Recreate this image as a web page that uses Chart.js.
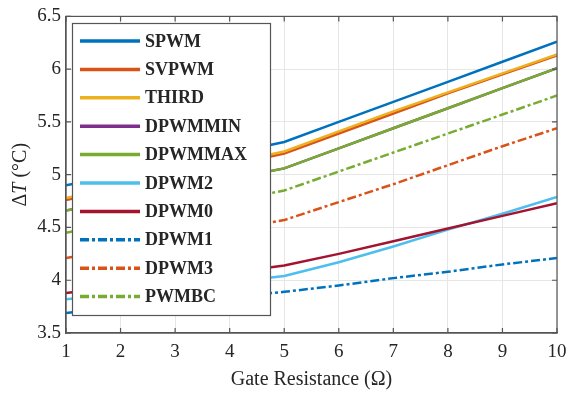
<!DOCTYPE html>
<html lang="en">
<head>
    <meta charset="UTF-8">
    <title>Delta T vs Gate Resistance</title>
    <script src="https://cdn.jsdelivr.net/npm/chart.js"></script>
    <style>
        body {
            margin: 0;
            background-color: #ffffff;
        }
        #wrap {
            width: 567px;
            height: 393px;
            position: relative;
        }
    </style>
</head>
<body>
    <div id="wrap"><canvas id="dtChart"></canvas></div>

    <script>
        // gate resistance (ohm)
        const resistance = [1, 2, 3, 4, 5, 6, 7, 8, 9, 10];

        // delta T (degC) per modulation scheme
        const spwm    = [4.90, 5.00, 5.10, 5.20, 5.31, 5.50, 5.69, 5.88, 6.07, 6.26];
        const svpwm   = [4.76, 4.87, 4.98, 5.09, 5.20, 5.39, 5.58, 5.77, 5.95, 6.13];
        const third   = [4.78, 4.89, 5.00, 5.11, 5.22, 5.41, 5.60, 5.78, 5.96, 6.14];
        const dpwmmin = [4.66, 4.76, 4.86, 4.96, 5.06, 5.25, 5.44, 5.63, 5.82, 6.01];
        const dpwmmax = [4.66, 4.76, 4.86, 4.96, 5.06, 5.25, 5.44, 5.63, 5.82, 6.01];
        const dpwm2   = [3.82, 3.87, 3.93, 3.98, 4.04, 4.17, 4.32, 4.48, 4.63, 4.79];
        const dpwm0   = [3.88, 3.94, 4.01, 4.07, 4.14, 4.25, 4.37, 4.49, 4.61, 4.73];
        const dpwm1   = [3.69, 3.74, 3.79, 3.84, 3.89, 3.95, 4.02, 4.08, 4.15, 4.21];
        const dpwm3   = [4.21, 4.30, 4.39, 4.48, 4.57, 4.74, 4.91, 5.09, 5.27, 5.44];
        const pwmbc   = [4.45, 4.55, 4.65, 4.75, 4.85, 5.03, 5.21, 5.39, 5.57, 5.75];

        const seriesNames = ['SPWM', 'SVPWM', 'THIRD', 'DPWMMIN', 'DPWMMAX', 'DPWM2', 'DPWM0', 'DPWM1', 'DPWM3', 'PWMBC'];
        const seriesValues = [spwm, svpwm, third, dpwmmin, dpwmmax, dpwm2, dpwm0, dpwm1, dpwm3, pwmbc];

        const xTicks = ['1', '2', '3', '4', '5', '6', '7', '8', '9', '10'];
        const yTicks = ['3.5', '4', '4.5', '5', '5.5', '6', '6.5'];

        const colors = ['#0072BD', '#D95319', '#EDB120', '#7E2F8E', '#77AC30', '#4DBEEE', '#A2142F', '#0072BD', '#D95319', '#77AC30'];
        const dashDot = [9, 3, 3, 3];
        const dashes = [[], [], [], [], [], [], [], dashDot, dashDot, dashDot];

        const serif = "'Liberation Serif', 'Times New Roman', serif";
        const ink = '#262626';

        let datasets = seriesNames.map((name, i) => ({
            label: name,
            data: resistance.map((r, j) => ({x: r, y: seriesValues[i][j]})),
            borderColor: colors[i],
            backgroundColor: colors[i],
            borderWidth: 2.5,
            borderDash: dashes[i],
            pointRadius: 0,
            tension: 0,
            order: 20 - i   // later series on top, like matlab
        }));

        // legend box inside the axes, drawn over the lines
        const legendBox = {
            id: 'legendBox',
            afterDatasetsDraw(chart) {
                const ctx = chart.ctx;
                ctx.save();
                ctx.fillStyle = '#ffffff';
                ctx.fillRect(72, 23, 198, 292);
                ctx.strokeStyle = '#555';
                ctx.lineWidth = 1.2;
                ctx.strokeRect(72.5, 23.5, 198, 292);
                ctx.font = 'bold 18px ' + serif;
                ctx.textBaseline = 'middle';
                seriesNames.forEach((name, i) => {
                    let y = 41 + i * 28.4;
                    ctx.strokeStyle = colors[i];
                    ctx.lineWidth = 3.5;
                    ctx.setLineDash(dashes[i]);
                    ctx.beginPath();
                    ctx.moveTo(80, y);
                    ctx.lineTo(140, y);
                    ctx.stroke();
                    ctx.setLineDash([]);
                    ctx.fillStyle = ink;
                    ctx.fillText(name, 145, y + 1);
                });
                ctx.restore();
            }
        };

        // axes box, inward ticks and y title with italic T
        const axesFrame = {
            id: 'axesFrame',
            afterDraw(chart) {
                const ctx = chart.ctx;
                const a = chart.chartArea;
                const xs = chart.scales.x, ys = chart.scales.y;
                ctx.save();
                ctx.strokeStyle = '#555';
                ctx.lineWidth = 1.2;
                ctx.strokeRect(a.left, a.top, a.right - a.left, a.bottom - a.top);
                ctx.beginPath();
                xs.ticks.forEach(t => {
                    let px = xs.getPixelForValue(t.value);
                    ctx.moveTo(px, a.bottom); ctx.lineTo(px, a.bottom - 5);
                    ctx.moveTo(px, a.top); ctx.lineTo(px, a.top + 5);
                });
                ys.ticks.forEach(t => {
                    let py = ys.getPixelForValue(t.value);
                    ctx.moveTo(a.left, py); ctx.lineTo(a.left + 5, py);
                    ctx.moveTo(a.right, py); ctx.lineTo(a.right - 5, py);
                });
                ctx.stroke();

                let parts = [['Δ', ''], ['T', 'italic '], [' (°C)', '']];
                let total = 0;
                parts.forEach(p => { ctx.font = p[1] + '20px ' + serif; total += ctx.measureText(p[0]).width; });
                ctx.translate(21, (a.top + a.bottom) / 2);
                ctx.rotate(-Math.PI / 2);
                ctx.fillStyle = ink;
                ctx.textBaseline = 'middle';
                let x = -total / 2;
                parts.forEach(p => {
                    ctx.font = p[1] + '20px ' + serif;
                    ctx.fillText(p[0], x, 0);
                    x += ctx.measureText(p[0]).width;
                });
                ctx.restore();
            }
        };

        let ctx = document.getElementById('dtChart').getContext('2d');
        let dtChart = new Chart(ctx, {
            type: 'line',
            data: { datasets: datasets },
            options: {
                responsive: true,
                maintainAspectRatio: false,
                animation: false,
                layout: { padding: { top: 16, right: 0, left: 0, bottom: 0 } },
                plugins: {
                    legend: { display: false },
                    tooltip: { enabled: false }
                },
                scales: {
                    x: {
                        type: 'linear',
                        min: 1,
                        max: 10,
                        afterFit: s => { s.height = 60; s.paddingRight = 10; },
                        ticks: {
                            stepSize: 1,
                            padding: 8,
                            color: ink,
                            font: { family: serif, size: 19 },
                            callback: (v, i) => xTicks[i]
                        },
                        grid: { color: '#e6e6e6', drawTicks: false },
                        border: { color: '#555', width: 1.2 },
                        title: {
                            display: true,
                            text: 'Gate Resistance (Ω)',
                            color: ink,
                            font: { family: serif, size: 20 },
                            padding: { top: 0, bottom: 1 }
                        }
                    },
                    y: {
                        min: 3.5,
                        max: 6.5,
                        afterFit: s => { s.width = 66; },
                        ticks: {
                            stepSize: 0.5,
                            padding: 5,
                            color: ink,
                            font: { family: serif, size: 19 },
                            callback: (v, i) => yTicks[i]
                        },
                        grid: { color: '#e6e6e6', drawTicks: false },
                        border: { color: '#555', width: 1.2 }
                    }
                }
            },
            plugins: [legendBox, axesFrame]
        });
    </script>
</body>
</html>
